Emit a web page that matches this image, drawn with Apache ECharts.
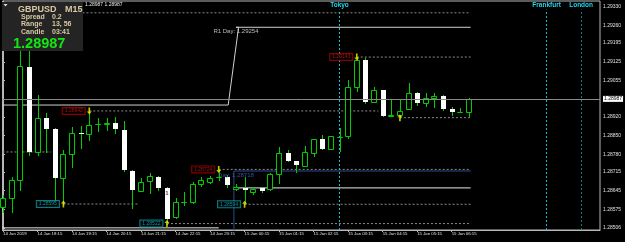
<!DOCTYPE html>
<html><head><meta charset="utf-8">
<script src="https://cdn.jsdelivr.net/npm/echarts@6/dist/echarts.min.js"></script>
<style>html,body{margin:0;padding:0;background:#000}#c{width:625px;height:242px}</style>
</head><body><div id="c"></div>
<script>
// ---- data ----
const opens  = [1.28584,1.28618,1.28685,1.29106,1.28789,1.28916,1.28875,1.28692,1.28782,1.28860,1.28856,1.28892,1.28894,1.28897,1.28871,1.28718,1.28644,1.28681,1.28696,1.28655,1.28547,1.28601,1.28603,1.28670,1.28677,1.28694,1.28696,1.28651,1.28655,1.28640,1.28655,1.28651,1.28707,1.28785,1.28756,1.28737,1.28785,1.28838,1.28800,1.28844,1.28849,1.29032,1.29132,1.28976,1.29020,1.28925,1.28927,1.28949,1.29009,1.28972,1.28991,1.28998,1.28949,1.28937,1.28938];
const closes = [1.28618,1.28685,1.29110,1.28789,1.28916,1.28875,1.28692,1.28782,1.28860,1.28856,1.28890,1.28894,1.28897,1.28875,1.28722,1.28647,1.28677,1.28700,1.28655,1.28539,1.28603,1.28603,1.28670,1.28685,1.28692,1.28696,1.28666,1.28659,1.28647,1.28651,1.28644,1.28707,1.28785,1.28756,1.28741,1.28789,1.28838,1.28800,1.28849,1.28845,1.29032,1.29132,1.28976,1.29020,1.28923,1.28927,1.28942,1.29009,1.28972,1.28991,1.28998,1.28949,1.28938,1.28938,1.28987];
const lows   = [1.28565,1.28565,1.28647,1.28778,1.28778,1.28789,1.28610,1.28595,1.28733,1.28804,1.28834,1.28867,1.28871,1.28860,1.28718,1.28580,1.28644,1.28636,1.28647,1.28522,1.28543,1.28591,1.28599,1.28662,1.28674,1.28685,1.28659,1.28647,1.28594,1.28632,1.28640,1.28647,1.28674,1.28756,1.28715,1.28737,1.28774,1.28800,1.28800,1.28793,1.28841,1.29017,1.28972,1.28976,1.28923,1.28923,1.28917,1.28949,1.28964,1.28961,1.28957,1.28946,1.28927,1.28937,1.28923];
const highs  = [1.28629,1.28696,1.29188,1.29177,1.29002,1.28935,1.28879,1.28797,1.28882,1.28886,1.28942,1.28916,1.28916,1.28920,1.28905,1.28720,1.28692,1.28711,1.28698,1.28659,1.28618,1.28640,1.28677,1.28696,1.28700,1.28724,1.28703,1.28670,1.28696,1.28659,1.28659,1.28711,1.28808,1.28797,1.28756,1.28812,1.28838,1.28853,1.28849,1.28879,1.29058,1.29143,1.29140,1.29032,1.29020,1.28983,1.28983,1.29046,1.29013,1.29009,1.29009,1.29002,1.28957,1.28953,1.28991];

const timeLabels   = ['14 Jan 2019','14 Jan 18:15','14 Jan 19:15','14 Jan 20:15','14 Jan 21:15','14 Jan 22:15','14 Jan 23:15','15 Jan 00:15','15 Jan 01:15','15 Jan 02:15','15 Jan 03:15','15 Jan 04:15','15 Jan 05:15','15 Jan 06:15'];
const timeLabelIdx = [0,4,8,12,16,20,24,28,32,36,40,44,48,52];
const priceTicks   = [1.29330,1.29260,1.29195,1.29125,1.29055,1.28920,1.28850,1.28780,1.28715,1.28645,1.28575,1.28506];
const bidPrice = 1.28987;

const sessionNames = ['Tokyo','Frankfurt','London'];
const sessionIdx   = [39,63,67];

// dotted support / resistance levels (price, from bar, to bar)
const levelPrices = [1.29308,1.28942,1.28789,1.28724,1.28595,1.28594,1.28522,1.29143,1.28917];
const levelFrom   = [-0.06,10,-0.06,25,7,28,19,41,46];
const levelTo     = [54.2,43.5,5.6,54.2,15.8,54.2,54.2,54.2,54.2];

const fractalHighIdx   = [10,25,41];
const fractalHighPrice = [1.28942,1.28724,1.29143];
const fractalLowIdx    = [7,19,28,46];
const fractalLowPrice  = [1.28595,1.28522,1.28594,1.28917];
const fractalLowBox    = [true,true,true,false];

// daily pivot lines
const r1Idx   = [-0.06,26.1,27.3,27,54.2];
const r1Price = [1.28964,1.28964,1.29254,1.29254,1.29254];
const r1Text  = 'R1 Day: 1.29254';
const s1Idx   = [26.76,26.76,54.2];
const s1Price = [1.28480,1.28718,1.28718];
const s1Text  = 'Day: 1.28718';
const w1Idx   = [-0.06,25];
const w1Price = [1.28506,1.28506];
const w2Idx   = [27,54.2];
const w2Price = [1.28655,1.28655];

const symbolName = 'GBPUSD', timeframe = 'M15';
const spread = '0.2', range = '13, 56', candleLeft = '03:41';

// ---- chart ----
const xMin = -0.058, xMax = 69.19;
const yMin = 1.28498, yMax = 1.29352;
const GREEN = '#00cc00';
const FONT = '"Liberation Sans", Arial, sans-serif';

function renderCandle(params, api) {
  const i = api.value(0), o = api.value(1), c = api.value(2), l = api.value(3), h = api.value(4);
  const pO = api.coord([i, o]), pC = api.coord([i, c]), pL = api.coord([i, l]), pH = api.coord([i, h]);
  const cx = Math.round(pO[0]);
  const x = cx + 0.5;
  const top = Math.round(Math.min(pO[1], pC[1])), bot = Math.round(Math.max(pO[1], pC[1]));
  const ch = [{type:'line', shape:{x1:x, y1:Math.round(pH[1]), x2:x, y2:Math.round(pL[1]) + 1}, style:{stroke:GREEN, lineWidth:1}}];
  if (c >= o) {
    ch.push({type:'rect', shape:{x:cx - 2.5, y:top + 0.5, width:5, height:Math.max(bot - top, 0)}, style:{fill:'#000', stroke:GREEN, lineWidth:1}});
  } else {
    ch.push({type:'rect', shape:{x:cx - 2, y:top, width:5, height:Math.max(bot - top, 1)}, style:{fill:'#fff'}});
  }
  return {type:'group', children:ch};
}

const candleData = opens.map((o, i) => [i, o, closes[i], lows[i], highs[i]]);

const ARROW_DOWN = 'path://M2,0L4,0L4,4L6,4L3,7L0,4L2,4Z';
const ARROW_UP = 'path://M3,0L6,3L4,3L4,7L2,7L2,3L0,3Z';

const boxLabel = (color, border) => ({
  show:true, position:'left', distance:2, fontSize:5, fontFamily:FONT, color:color,
  backgroundColor:'#000', borderColor:border, borderWidth:1, padding:[1,2,0,2], lineHeight:5,
  formatter: p => p.value[1].toFixed(5)
});

const series = [];
levelPrices.forEach((p, k) => series.push({
  type:'line', data:[[levelFrom[k], p], [levelTo[k], p]], symbol:'none', silent:true, z:2,
  lineStyle:{color:'#8a8a8a', width:1, type:[2,2]}
}));
series.push({type:'line', data:r1Idx.map((x,k)=>[x, r1Price[k]]), symbol:'none', silent:true, z:2, lineStyle:{color:'#d0d0d0', width:1}});
series.push({type:'line', data:s1Idx.map((x,k)=>[x, s1Price[k]]), symbol:'none', silent:true, z:2, lineStyle:{color:'#2c4a90', width:1}});
series.push({type:'line', data:w1Idx.map((x,k)=>[x, w1Price[k]]), symbol:'none', silent:true, z:2, lineStyle:{color:'#e8e8e8', width:1}});
series.push({type:'line', data:w2Idx.map((x,k)=>[x, w2Price[k]]), symbol:'none', silent:true, z:2, lineStyle:{color:'#e8e8e8', width:1}});

// session lines + bid line
series.push({
  type:'line', data:[], silent:true, z:2,
  markLine:{
    symbol:'none', silent:true, animation:false,
    data: sessionIdx.map((x, k) => [
      {coord:[x, yMin], lineStyle:{color: k === 2 ? '#0b7f86' : '#18b9cc', type:[2,2], width:1},
       label:{show:true, position:'end', distance:1, formatter:sessionNames[k], color:'#22d6ea', fontWeight:'bold', fontSize:6.5, fontFamily:FONT}},
      {coord:[x, 1.29319]}
    ]).concat([[
      {coord:[xMin, bidPrice], lineStyle:{color:'#8a8a8a', type:'solid', width:1},
       label:{show:true, position:'end', distance:3, formatter:bidPrice.toFixed(5), color:'#000', backgroundColor:'#fff', fontSize:5, fontFamily:FONT, padding:[1,1,0,1], lineHeight:5}},
      {coord:[xMax, bidPrice]}
    ]])
  }
});

series.push({type:'custom', renderItem:renderCandle, data:candleData, z:4, silent:true, encode:{x:0, y:[1,2,3,4]}});

// fractal arrows with price boxes
series.push({
  type:'scatter', z:6, silent:true, symbol:ARROW_DOWN, symbolSize:[5,7], itemStyle:{color:'#ffee00'},
  data: fractalHighIdx.map((x,k)=>({value:[x, fractalHighPrice[k]]})),
  label: boxLabel('#d41414', '#b00000')
});
series.push({
  type:'scatter', z:6, silent:true, symbol:ARROW_UP, symbolSize:[5,7], itemStyle:{color:'#ffee00'},
  data: fractalLowIdx.map((x,k)=>({value:[x, fractalLowPrice[k]], label:{show:fractalLowBox[k]}})),
  label: boxLabel('#1fb5c0', '#0a9aa5')
});
// pivot texts
series.push({
  type:'scatter', z:7, silent:true, symbolSize:1, itemStyle:{color:'rgba(0,0,0,0)'},
  data:[
    {value:[27, r1Price[4]], label:{show:true, position:'bottom', distance:1, offset:[0,0], formatter:r1Text, color:'#e0e0e0', fontSize:6, fontFamily:FONT}},
    {value:[27, s1Price[2]], label:{show:true, position:'bottom', distance:1, offset:[0,0], formatter:s1Text, color:'#3e66c8', fontSize:6, fontFamily:FONT}},
    {value:[19, 1.28634], label:{show:true, position:'inside', formatter:'1', color:'#222', fontSize:6, fontWeight:'bold', fontFamily:FONT}}
  ]
});

const chart = echarts.init(document.getElementById('c'), null, {renderer:'canvas'});
chart.setOption({
  animation:false,
  backgroundColor:'#000',
  grid:{left:1, right:25, top:1, bottom:12, show:true, borderColor:'#b8b8b8', borderWidth:1},
  xAxis:{
    type:'value', min:xMin, max:xMax,
    axisLine:{show:true, lineStyle:{color:'#b8b8b8'}},
    splitLine:{show:false},
    axisTick:{show:true, length:2, customValues:timeLabelIdx, lineStyle:{color:'#b8b8b8'}},
    axisLabel:{customValues:timeLabelIdx, align:'left', margin:2, fontSize:4.3, fontFamily:FONT, color:'#e0e0e0',
      formatter: v => timeLabels[timeLabelIdx.indexOf(Math.round(v))] || ''}
  },
  yAxis:{
    type:'value', position:'right', min:yMin, max:yMax, scale:true,
    axisLine:{show:true, lineStyle:{color:'#b8b8b8'}},
    splitLine:{show:false},
    axisTick:{show:true, length:2, customValues:priceTicks, lineStyle:{color:'#b8b8b8'}},
    axisLabel:{customValues:priceTicks, margin:3, fontSize:5, fontFamily:FONT, color:'#e0e0e0', formatter: v => v.toFixed(5)}
  },
  series: series,
  graphic:[
    {type:'rect', shape:{x:2, y:2, width:81, height:49}, style:{fill:'#242424'}, z:100},
    {type:'polygon', shape:{points:[[3.5,4],[7.5,4],[5.5,6.5]]}, style:{fill:'#e0e0e0'}, z:101},
    {type:'text', x:18, y:9.5, style:{text:symbolName, font:'bold 9px '+FONT, fill:'#d8c8a2', verticalAlign:'middle'}, z:101},
    {type:'text', x:65, y:9.5, style:{text:timeframe, font:'bold 9px '+FONT, fill:'#d8c8a2', verticalAlign:'middle'}, z:101},
    {type:'text', x:21, y:17, style:{text:'Spread', font:'bold 7px '+FONT, fill:'#d8c8a2', verticalAlign:'middle'}, z:101},
    {type:'text', x:52, y:17, style:{text:spread, font:'bold 7px '+FONT, fill:'#d8c8a2', verticalAlign:'middle'}, z:101},
    {type:'text', x:21, y:24.5, style:{text:'Range', font:'bold 7px '+FONT, fill:'#d8c8a2', verticalAlign:'middle'}, z:101},
    {type:'text', x:52, y:24.5, style:{text:range, font:'bold 7px '+FONT, fill:'#d8c8a2', verticalAlign:'middle'}, z:101},
    {type:'text', x:21, y:32, style:{text:'Candle', font:'bold 7px '+FONT, fill:'#d8c8a2', verticalAlign:'middle'}, z:101},
    {type:'text', x:52, y:32, style:{text:candleLeft, font:'bold 7px '+FONT, fill:'#d8c8a2', verticalAlign:'middle'}, z:101},
    {type:'text', x:13, y:44, style:{text:bidPrice.toFixed(5), font:'bold 14.5px '+FONT, fill:'#14e614', verticalAlign:'middle'}, z:101},
    {type:'text', x:85, y:5, style:{text:bidPrice.toFixed(5)+' '+bidPrice.toFixed(5), font:'5px '+FONT, fill:'#e8e8e8', verticalAlign:'middle'}, z:101}
  ]
});
</script></body></html>
